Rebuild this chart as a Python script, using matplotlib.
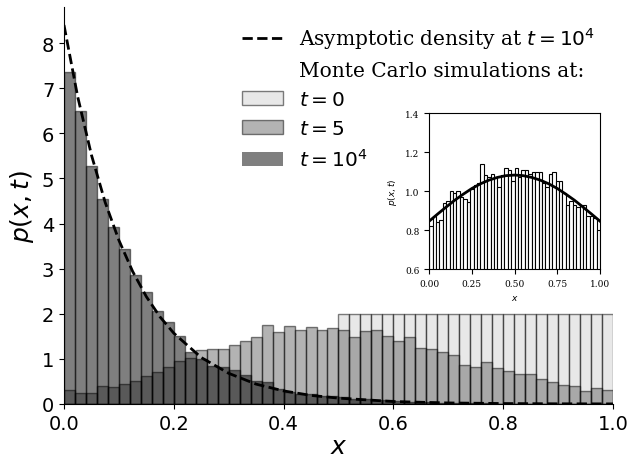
import numpy as np
import matplotlib.pyplot as plt
from matplotlib.lines import Line2D
from matplotlib.patches import Patch

# histogram heights (50 bins on [0, 1])
bin_edges = np.linspace(0, 1, 51)

p_t0 = [0.0] * 25 + [2.0] * 25

p_t5 = [0.32, 0.24, 0.25, 0.39, 0.38, 0.44, 0.51, 0.62, 0.72, 0.81,
        0.95, 1.03, 1.20, 1.21, 1.21, 1.31, 1.39, 1.49, 1.74, 1.60,
        1.73, 1.64, 1.71, 1.64, 1.68, 1.65, 1.49, 1.62, 1.63, 1.51,
        1.40, 1.49, 1.24, 1.22, 1.15, 1.09, 0.86, 0.83, 0.92, 0.80,
        0.74, 0.67, 0.67, 0.55, 0.49, 0.41, 0.39, 0.29, 0.36, 0.31]

p_t1e4 = [7.35, 6.49, 5.28, 4.55, 3.92, 3.44, 2.86, 2.48, 2.07, 1.81,
          1.50, 1.16, 1.00, 0.84, 0.83, 0.75, 0.65, 0.50, 0.48, 0.33,
          0.26, 0.22, 0.23, 0.18, 0.18, 0.15, 0.12, 0.10, 0.09, 0.08,
          0.06, 0.05, 0.05, 0.04, 0.03, 0.03, 0.02, 0.02, 0.02, 0.01,
          0.01, 0.01, 0.01, 0.00, 0.01, 0.00, 0.00, 0.00, 0.00, 0.00]

# asymptotic density (dashed curve)
x_asym = [0, 0.025, 0.05, 0.075, 0.1, 0.125, 0.15, 0.175, 0.2, 0.25,
          0.3, 0.35, 0.4, 0.45, 0.5, 0.6, 0.7, 0.8, 0.9, 1.0]
p_asym = [8.40, 6.81, 5.52, 4.47, 3.63, 2.94, 2.38, 1.93, 1.57, 1.03,
          0.68, 0.44, 0.29, 0.19, 0.13, 0.054, 0.023, 0.010, 0.004, 0.002]

# inset histogram and curve
p_inset = [0.82, 0.87, 0.84, 0.85, 0.94, 0.95, 1.00, 0.99, 1.00, 0.97,
           0.96, 0.945, 1.01, 1.03, 1.04, 1.14, 1.08, 1.07, 1.09, 1.07,
           1.02, 1.08, 1.12, 1.11, 1.05, 1.12, 1.07, 1.11, 1.11, 1.09,
           1.10, 1.10, 1.10, 1.04, 1.02, 1.09, 1.10, 1.05, 1.05, 0.99,
           0.93, 0.95, 0.93, 0.92, 0.93, 0.93, 0.87, 0.87, 0.86, 0.80]
x_inset_curve = [0, 0.05, 0.1, 0.15, 0.2, 0.25, 0.3, 0.35, 0.4, 0.45, 0.5,
                 0.55, 0.6, 0.65, 0.7, 0.75, 0.8, 0.85, 0.9, 0.95, 1.0]
p_inset_curve = [0.845, 0.882, 0.918, 0.953, 0.984, 1.013, 1.037, 1.056, 1.070, 1.079, 1.082,
                 1.079, 1.070, 1.056, 1.037, 1.013, 0.984, 0.953, 0.918, 0.882, 0.845]

fig = plt.figure(figsize=(6.31, 4.60), dpi=100)
ax = fig.add_axes([0.1014, 0.1196, 0.870, 0.863])

w = bin_edges[1] - bin_edges[0]
ax.bar(bin_edges[:-1], p_t0, width=w, align='edge', color='lightgray',
       edgecolor='k', alpha=0.5, linewidth=1)
ax.bar(bin_edges[:-1], p_t5, width=w, align='edge', color='dimgray',
       edgecolor='k', alpha=0.5, linewidth=1)
ax.bar(bin_edges[:-1], p_t1e4, width=w, align='edge', color='k',
       edgecolor='k', alpha=0.5, linewidth=1)
ax.plot(x_asym, p_asym, 'k--', linewidth=2)

ax.set_xlim(0, 1)
ax.set_ylim(0, 8.8)
ax.set_xticks([0, 0.2, 0.4, 0.6, 0.8, 1.0])
ax.set_yticks(range(9))
ax.tick_params(labelsize=14)
ax.set_xlabel('$x$', fontsize=18, labelpad=1)
ax.set_ylabel('$p(x,t)$', fontsize=18)
ax.spines['top'].set_visible(False)
ax.spines['right'].set_visible(False)

handles = [
    Line2D([], [], color='k', linestyle='--', linewidth=2),
    Line2D([], [], linestyle='none'),
    Patch(facecolor='lightgray', edgecolor='k', alpha=0.5),
    Patch(facecolor='dimgray', edgecolor='k', alpha=0.5),
    Patch(facecolor='k', edgecolor='k', alpha=0.5, linewidth=0),
]
labels = [r'Asymptotic density at $t=10^4$', 'Monte Carlo simulations at:',
          '$t=0$', '$t=5$', '$t=10^4$']
ax.legend(handles, labels, loc='upper right', frameon=False,
          prop={'family': 'serif', 'size': 14.5}, handlelength=2.0,
          borderaxespad=0.5)

# inset
axin = fig.add_axes([0.680, 0.413, 0.271, 0.339])
axin.bar(bin_edges[:-1], p_inset, width=w, align='edge', color='white',
         edgecolor='k', linewidth=0.8)
axin.plot(x_inset_curve, p_inset_curve, 'k-', linewidth=2)
axin.set_xlim(0, 1)
axin.set_ylim(0.6, 1.4)
axin.set_xticks([0, 0.25, 0.5, 0.75, 1.0])
axin.set_yticks([0.6, 0.8, 1.0, 1.2, 1.4])
for lab in axin.get_xticklabels() + axin.get_yticklabels():
    lab.set_family('serif')
    lab.set_fontsize(6.5)
axin.set_xlabel('$x$', fontsize=6.5)
axin.set_ylabel('$p(x,t)$', fontsize=6.5)

fig.savefig('out.png')
